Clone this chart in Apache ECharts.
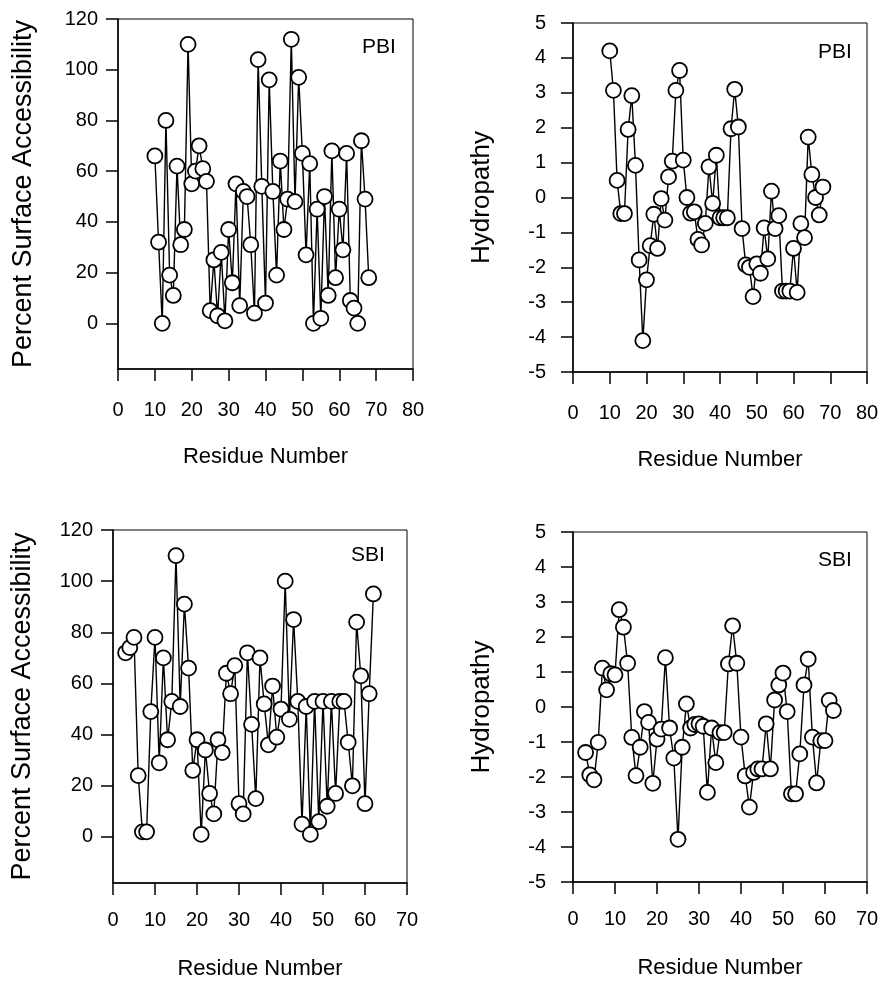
<!DOCTYPE html>
<html>
<head>
<meta charset="utf-8">
<title>PBI / SBI accessibility and hydropathy</title>
<script src="https://cdn.jsdelivr.net/npm/echarts@6.0.0/dist/echarts.min.js"></script>
<style>
    html, body { margin: 0; padding: 0; background: #fff; }
    #chart-residues { width: 886px; height: 982px; }
</style>
</head>
<body>
<div id="chart-residues"></div>
<script>
// residue numbers
var pbiResidues = [10, 11, 12, 13, 14, 15, 16, 17, 18, 19, 20, 21, 22, 23, 24, 25, 26, 27, 28, 29,
    30, 31, 32, 33, 34, 35, 36, 37, 38, 39, 40, 41, 42, 43, 44, 45, 46, 47, 48, 49,
    50, 51, 52, 53, 54, 55, 56, 57, 58, 59, 60, 61, 62, 63, 64, 65, 66, 67, 68];
var sbiResidues = [3, 4, 5, 6, 7, 8, 9, 10, 11, 12, 13, 14, 15, 16, 17, 18, 19, 20, 21, 22,
    23, 24, 25, 26, 27, 28, 29, 30, 31, 32, 33, 34, 35, 36, 37, 38, 39, 40, 41, 42,
    43, 44, 45, 46, 47, 48, 49, 50, 51, 52, 53, 54, 55, 56, 57, 58, 59, 60, 61, 62];

// percent surface accessibility
var pbiAccess = [66, 32, 0, 80, 19, 11, 62, 31, 37, 110, 55, 60, 70, 61, 56, 5, 25, 3, 28, 1,
    37, 16, 55, 7, 52, 50, 31, 4, 104, 54, 8, 96, 52, 19, 64, 37, 49, 112, 48, 97,
    67, 27, 63, 0, 45, 2, 50, 11, 68, 18, 45, 29, 67, 9, 6, 0, 72, 49, 18];
var sbiAccess = [72, 74, 78, 24, 2, 2, 49, 78, 29, 70, 38, 53, 110, 51, 91, 66, 26, 38, 1, 34,
    17, 9, 38, 33, 64, 56, 67, 13, 9, 72, 44, 15, 70, 52, 36, 59, 39, 50, 100, 46,
    85, 53, 5, 51, 1, 53, 6, 53, 12, 53, 17, 53, 53, 37, 20, 84, 63, 13, 56, 95];

// hydropathy
var pbiHydro = [4.2, 3.07, 0.49, -0.46, -0.46, 1.95, 2.92, 0.92, -1.79, -4.1,
    -2.36, -1.38, -0.48, -1.46, -0.03, -0.65, 0.59, 1.04, 3.07, 3.64,
    1.07, 0, -0.45, -0.41, -1.2, -1.36, -0.74, 0.88, -0.17, 1.21,
    -0.58, -0.58, -0.58, 1.97, 3.1, 2.02, -0.89, -1.93, -2.0, -2.84,
    -1.9, -2.17, -0.87, -1.76, 0.18, -0.89, -0.52, -2.68, -2.68, -2.68,
    -1.46, -2.72, -0.75, -1.15, 1.73, 0.66, 0, -0.5, 0.3];
var sbiHydro = [-1.3, -1.94, -2.08, -1.01, 1.11, 0.49, 0.95, 0.92, 2.78, 2.28,
    1.25, -0.87, -1.96, -1.15, -0.13, -0.44, -2.18, -0.92, -0.63, 1.41,
    -0.6, -1.46, -3.78, -1.15, 0.09, -0.6, -0.5, -0.48, -0.55, -2.44,
    -0.6, -1.59, -0.73, -0.73, 1.23, 2.32, 1.25, -0.86, -1.97, -2.86,
    -1.87, -1.77, -1.77, -0.48, -1.77, 0.2, 0.63, 0.97, -0.13, -2.48,
    -2.48, -1.34, 0.63, 1.37, -0.86, -2.17, -0.96, -0.96, 0.19, -0.1];

// tick labels
var accessTicks = [0, 20, 40, 60, 80, 100, 120];
var hydroTicks = [-5, -4, -3, -2, -1, 0, 1, 2, 3, 4, 5];

var FONT = '"Liberation Sans", Arial, Helvetica, sans-serif';

function pairs(xs, ys) {
    return xs.map(function (x, i) { return [x, ys[i]]; });
}

function gridBox(left, top, width, height) {
    return {
        left: left, top: top, width: width, height: height,
        show: true, borderColor: '#000', borderWidth: 1, containLabel: false
    };
}

function residueAxis(grid, max, labelMargin, nameGap) {
    return {
        gridIndex: grid,
        type: 'value',
        min: 0,
        max: max,
        interval: 10,
        name: 'Residue Number',
        nameLocation: 'middle',
        nameGap: nameGap,
        nameTextStyle: { fontFamily: FONT, fontSize: 22, color: '#000' },
        axisLine: { show: true, onZero: false, lineStyle: { color: '#000', width: 1.5 } },
        axisTick: { show: true, inside: false, length: 12, lineStyle: { color: '#000', width: 1.5 } },
        axisLabel: { fontFamily: FONT, fontSize: 20, color: '#000', margin: labelMargin },
        splitLine: { show: false }
    };
}

function valueAxis(grid, name, min, max, ticks, labelMargin, nameGap, nameSize) {
    return {
        gridIndex: grid,
        type: 'value',
        min: min,
        max: max,
        name: name,
        nameLocation: 'middle',
        nameGap: nameGap,
        nameTextStyle: { fontFamily: FONT, fontSize: nameSize, color: '#000' },
        axisLine: { show: true, onZero: false, lineStyle: { color: '#000', width: 1.5 } },
        axisTick: {
            show: true, inside: false, length: 12, customValues: ticks,
            lineStyle: { color: '#000', width: 1.5 }
        },
        axisLabel: {
            fontFamily: FONT, fontSize: 20, color: '#000', margin: labelMargin,
            customValues: ticks, showMinLabel: true, showMaxLabel: true
        },
        splitLine: { show: false }
    };
}

function circleLine(idx, data) {
    return {
        type: 'line',
        xAxisIndex: idx,
        yAxisIndex: idx,
        data: data,
        symbol: 'circle',
        symbolSize: 15,
        showAllSymbol: true,
        clip: false,
        itemStyle: { color: '#fff', borderColor: '#000', borderWidth: 1.8 },
        lineStyle: { color: '#000', width: 1.4 },
        emphasis: { disabled: true }
    };
}

function tag(text, left, top) {
    return {
        text: text, left: left, top: top, padding: 0,
        textStyle: { fontFamily: FONT, fontSize: 21, fontWeight: 'normal', color: '#000' }
    };
}

var dom = document.getElementById('chart-residues');
var myChart = echarts.init(dom, null, { renderer: 'canvas' });
var option = null;

option = {
    animation: false,
    backgroundColor: '#fff',
    title: [
        tag('PBI', 362, 37),
        tag('PBI', 818, 42),
        tag('SBI', 351, 545),
        tag('SBI', 818, 550)
    ],
    grid: [
        gridBox(118, 19, 295, 350),
        gridBox(573, 23, 294, 349),
        gridBox(113, 530, 294, 353),
        gridBox(573, 532, 294, 350)
    ],
    xAxis: [
        residueAxis(0, 80, 31, 77),
        residueAxis(1, 80, 31, 77),
        residueAxis(2, 70, 27, 75),
        residueAxis(3, 70, 27, 75)
    ],
    yAxis: [
        valueAxis(0, 'Percent Surface Accessibility', -18, 120, accessTicks, 20, 81, 27),
        valueAxis(1, 'Hydropathy', -5, 5, hydroTicks, 27, 78, 26),
        valueAxis(2, 'Percent Surface Accessibility', -18, 120, accessTicks, 20, 77, 27),
        valueAxis(3, 'Hydropathy', -5, 5, hydroTicks, 27, 78, 26)
    ],
    series: [
        circleLine(0, pairs(pbiResidues, pbiAccess)),
        circleLine(1, pairs(pbiResidues, pbiHydro)),
        circleLine(2, pairs(sbiResidues, sbiAccess)),
        circleLine(3, pairs(sbiResidues, sbiHydro))
    ]
};

if (option && typeof option === 'object') {
    myChart.setOption(option);
}
</script>
</body>
</html>
